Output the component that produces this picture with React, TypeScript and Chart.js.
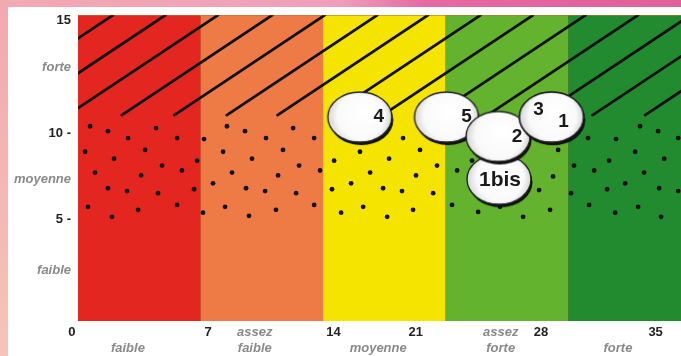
import React, { useEffect, useRef } from 'react';
import { Chart, registerables } from 'chart.js';

Chart.register(...registerables);

// ---- data ----
const bandStarts = [0, 7, 14, 21, 28];
const bandEnds = [7, 14, 21, 28, 35];
const bandTop = 15;
const bandColors = ['#e3261f', '#ee7b45', '#f5e400', '#63b32e', '#228b2f'];

const yTickValues = [2.5, 5.0, 6.95, 9.2, 12.45, 14.75];
const yTickLabels = ['faible', '5 -', 'moyenne', '10 -', 'forte', '15'];

const xTickValues = [-0.35, 2.85, 7.43, 10.1, 14.6, 17.15, 19.3, 24.15, 26.45, 30.85, 33.0];
const xTickLabels: string[][] = [
  ['0'], ['', 'faible'], ['7'], ['assez', 'faible'], ['14'], ['', 'moyenne'],
  ['21'], ['assez', 'forte'], ['28'], ['', 'forte'], ['35'],
];

const hatchLowX = [-6.6, -3.6, -0.6, 2.5, 5.5, 8.5, 11.4, 14.4, 17.4, 20.4, 23.4, 26.4, 29.4, 32.4];
const hatchTopX = [2.0, 5.0, 8.0, 11.1, 14.1, 17.1, 20.0, 23.0, 26.0, 29.0, 32.0, 35.0, 38.0, 41.0];
const hatchLowY = 10.1;
const hatchTopY = 15;

const dotX = [
  0.69, 1.71, 4.46, 2.86, 5.66, 0.40, 3.83, 2.06, 4.80, 5.94, 6.80, 0.97, 3.60, 1.71, 2.80, 4.57, 6.63, 0.57, 5.66, 3.43, 1.94,
  7.20, 8.51, 8.29, 7.71, 8.40, 7.14, 9.54, 12.29, 10.74, 13.49, 11.71, 9.94, 12.63, 13.83, 8.80, 11.43, 9.60, 10.69, 12.46, 13.49, 11.31, 9.77,
  16.11, 14.63, 16.69, 15.60, 14.51, 16.29, 15.03, 18.57, 19.54, 17.77, 20.51, 19.31, 17.43, 18.51, 20.29, 19.14, 17.66,
  21.66, 21.37, 22.86, 24.11, 25.43, 26.97, 26.34, 27.14, 27.43, 22.51,
  32.11, 33.14, 29.14, 30.74, 34.29, 31.83, 30.34, 28.34, 29.49, 33.49, 32.34, 31.26, 28.17, 30.23, 33.20, 34.29, 29.20, 32.00, 30.69, 33.31,
];
const dotY = [
  9.55, 9.31, 9.46, 8.97, 8.97, 8.30, 8.39, 7.96, 7.62, 7.38, 7.86, 7.28, 7.14, 6.51, 6.37, 6.27, 6.46, 5.60, 5.69, 5.45, 5.11,
  8.92, 9.55, 8.30, 6.75, 5.60, 5.31, 9.31, 9.46, 8.97, 8.97, 8.39, 7.96, 7.62, 7.38, 7.28, 7.14, 6.51, 6.37, 6.27, 5.69, 5.45, 5.16,
  8.30, 7.86, 7.28, 6.75, 6.46, 5.60, 5.31, 8.97, 8.39, 7.96, 7.62, 7.14, 6.51, 6.37, 6.27, 5.45, 5.11,
  7.38, 5.69, 5.35, 5.60, 5.11, 5.45, 6.42, 7.09, 8.39, 7.86,
  9.55, 9.31, 8.97, 8.92, 8.97, 8.30, 7.86, 7.62, 7.38, 7.96, 7.28, 6.75, 6.27, 6.46, 6.51, 6.37, 5.69, 5.60, 5.31, 5.11,
];

const bubbleLabels = ['4', '5', '1bis', '2', '3', '1'];
const bubbleX = [16.1, 21.05, 24.05, 24.0, 27.05, 27.05];
const bubbleY = [10.0, 10.0, 6.95, 9.05, 10.0, 10.0];

// ---- styles ----
const FONT = "'Liberation Sans', Arial, sans-serif";
const labelOffsets: Record<string, [number, number]> = {
  '4': [19, 0], '5': [20, 0], '1bis': [1, 1], '2': [19, 0], '3': [-13, -7], '1': [12, 5],
};

function makeBubble(): HTMLCanvasElement {
  const c = document.createElement('canvas');
  c.width = 72;
  c.height = 62;
  const g = c.getContext('2d')!;
  const cx = 36, cy = 31, rx = 32, ry = 25;
  g.fillStyle = '#111';
  g.beginPath();
  g.ellipse(cx + 1.5, cy + 3, rx, ry, 0, 0, Math.PI * 2);
  g.fill();
  const grad = g.createRadialGradient(cx + 4, cy - 6, 4, cx, cy, rx);
  grad.addColorStop(0, '#ffffff');
  grad.addColorStop(0.7, '#fafafa');
  grad.addColorStop(1, '#d4d4d4');
  g.fillStyle = grad;
  g.beginPath();
  g.ellipse(cx, cy, rx, ry, 0, 0, Math.PI * 2);
  g.fill();
  g.lineWidth = 1.4;
  g.strokeStyle = '#222';
  g.stroke();
  return c;
}

const framePlugin = {
  id: 'frame',
  beforeDraw(chart: any) {
    const { ctx, width, height, chartArea } = chart;
    ctx.save();
    ctx.fillStyle = '#ffffff';
    ctx.fillRect(0, 0, width, height);
    const lg = ctx.createLinearGradient(0, 0, 0, height);
    lg.addColorStop(0, '#f1a9b0');
    lg.addColorStop(1, '#f6c4b8');
    ctx.fillStyle = lg;
    ctx.fillRect(0, 0, 8, height);
    const tg = ctx.createLinearGradient(0, 0, width, 0);
    tg.addColorStop(0, '#f2aab2');
    tg.addColorStop(0.5, '#ef9fbc');
    tg.addColorStop(0.62, '#e56aa3');
    tg.addColorStop(1, '#e0609c');
    ctx.fillStyle = tg;
    ctx.fillRect(0, 0, width, 7);
    if (chartArea) {
      // neutral under-layer so band seams do not show white
      ctx.fillStyle = '#b85a2a';
      ctx.fillRect(chartArea.left, chartArea.top, chartArea.right - chartArea.left, chartArea.bottom - chartArea.top);
    }
    ctx.restore();
  },
};

const bubbleLabelPlugin = {
  id: 'bubbleLabels',
  afterDatasetsDraw(chart: any) {
    const idx = chart.data.datasets.findIndex((d: any) => d.label === 'bubbles');
    if (idx < 0) return;
    const meta = chart.getDatasetMeta(idx);
    const ctx = chart.ctx;
    ctx.save();
    ctx.fillStyle = '#1a1a1a';
    ctx.textAlign = 'center';
    ctx.textBaseline = 'middle';
    meta.data.forEach((el: any, i: number) => {
      const lab = bubbleLabels[i];
      const off = labelOffsets[lab] || [0, 0];
      ctx.font = lab.length > 1 ? `bold 21px ${FONT}` : `bold 19px ${FONT}`;
      ctx.fillText(lab, el.x + off[0], el.y + off[1]);
    });
    ctx.restore();
  },
};

export default function App() {
  const ref = useRef<HTMLCanvasElement>(null);

  useEffect(() => {
    if (!ref.current) return;
    const bubbleImg = makeBubble();
    const datasets: any[] = [];

    bandStarts.forEach((s, i) => {
      datasets.push({
        type: 'line',
        label: 'band' + i,
        data: [{ x: s, y: bandTop }, { x: bandEnds[i], y: bandTop }],
        fill: 'origin',
        backgroundColor: bandColors[i],
        borderWidth: 0,
        borderColor: 'rgba(0,0,0,0)',
        pointRadius: 0,
        order: 10,
        clip: 0,
      });
    });

    hatchLowX.forEach((x0, i) => {
      datasets.push({
        type: 'line',
        label: 'hatch' + i,
        data: [{ x: x0, y: hatchLowY }, { x: hatchTopX[i], y: hatchTopY }],
        fill: false,
        borderColor: '#111',
        borderWidth: 2.8,
        borderCapStyle: 'round',
        pointRadius: 0,
        order: 5,
        clip: 0,
      });
    });

    datasets.push({
      type: 'scatter',
      label: 'dots',
      data: dotX.map((x, i) => ({ x, y: dotY[i] })),
      pointRadius: 2.4,
      pointBackgroundColor: '#111',
      pointBorderWidth: 0,
      order: 6,
      clip: 0,
    });

    datasets.push({
      type: 'scatter',
      label: 'bubbles',
      data: bubbleX.map((x, i) => ({ x, y: bubbleY[i] })),
      pointStyle: bubbleImg,
      pointRadius: 10,
      order: 0,
      clip: false,
    });

    const numFont = { family: FONT, size: 13, weight: 'bold', lineHeight: 1.25 };
    const catFont = { family: FONT, size: 13, weight: 'bold', style: 'italic', lineHeight: 1.25 };

    const chart = new Chart(ref.current, {
      type: 'line',
      data: { datasets },
      options: {
        responsive: false,
        devicePixelRatio: 1,
        animation: false,
        events: [],
        layout: { autoPadding: false, padding: { left: 8, top: 10, right: 0, bottom: 0 } },
        plugins: { legend: { display: false }, tooltip: { enabled: false } },
        scales: {
          x: {
            type: 'linear',
            min: 0,
            max: 34.45,
            grid: { display: false, drawTicks: false },
            border: { display: false },
            afterBuildTicks: (s: any) => {
              s.ticks = xTickValues.map((v) => ({ value: v }));
            },
            afterFit: (s: any) => {
              s.height = 35;
            },
            ticks: {
              autoSkip: false,
              maxRotation: 0,
              minRotation: 0,
              padding: 3,
              callback: (_v: any, i: number) => xTickLabels[i],
              font: (c: any) => (xTickLabels[c.index] && xTickLabels[c.index].length === 1 ? numFont : catFont),
              color: (c: any) => (xTickLabels[c.index] && xTickLabels[c.index].length === 1 ? '#222222' : '#8a8a8a'),
            },
          },
          y: {
            type: 'linear',
            min: 0,
            max: 15,
            grid: { display: false, drawTicks: false },
            border: { display: false },
            afterBuildTicks: (s: any) => {
              s.ticks = yTickValues.map((v) => ({ value: v }));
            },
            afterFit: (s: any) => {
              s.width = 70;
            },
            ticks: {
              autoSkip: false,
              padding: 7,
              callback: (_v: any, i: number) => yTickLabels[i],
              font: (c: any) => (/\d/.test(yTickLabels[c.index] || '') ? numFont : catFont),
              color: (c: any) => (/\d/.test(yTickLabels[c.index] || '') ? '#222222' : '#8a8a8a'),
            },
          },
        },
      } as any,
      plugins: [framePlugin, bubbleLabelPlugin],
    });

    return () => chart.destroy();
  }, []);

  return (
    <div style={{ position: 'absolute', left: 0, top: 0, width: 681, height: 356 }}>
      <canvas ref={ref} width={681} height={356} style={{ display: 'block', width: 681, height: 356 }} />
    </div>
  );
}
